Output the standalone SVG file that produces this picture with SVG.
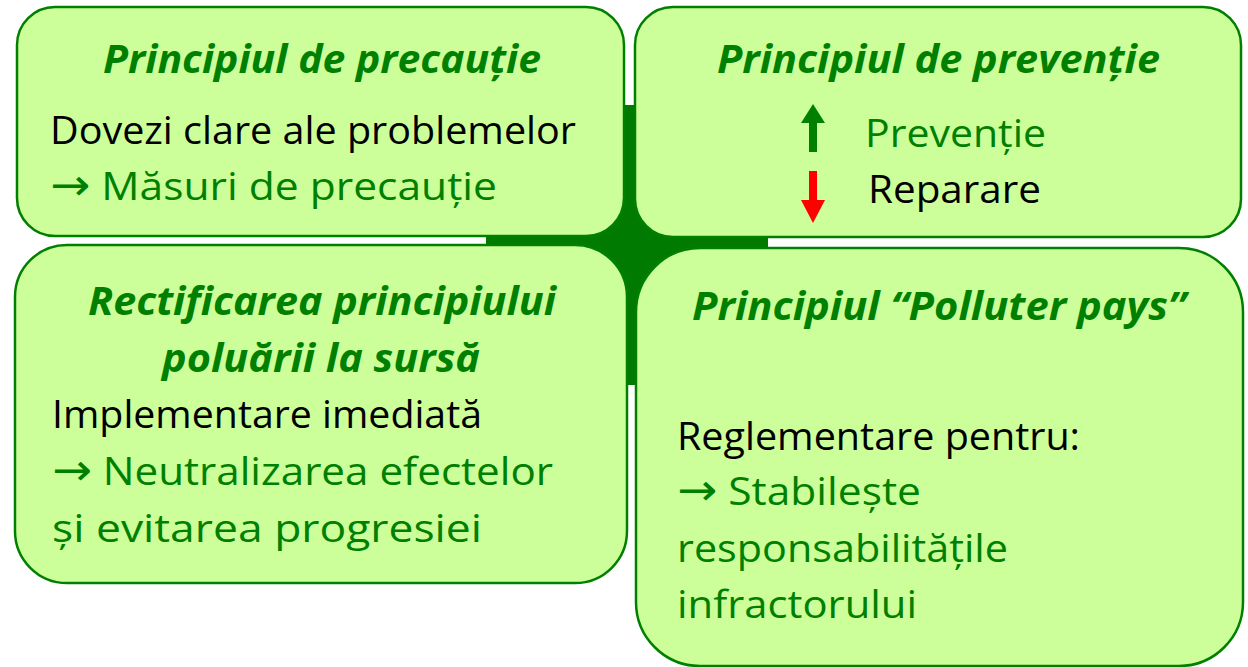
<svg xmlns="http://www.w3.org/2000/svg" width="1248" height="667" viewBox="0 0 1248 667">
<style>
.box{fill:#CCFF99;stroke:#008000;stroke-width:2.5}
.t{font-family:"Open Sans","Liberation Sans",sans-serif;font-size:39px;font-weight:bold;font-style:italic;fill:#008000}
.b{font-family:"Open Sans","Liberation Sans",sans-serif;font-size:39px;fill:#000}
.g{fill:#008000}
.ar{font-family:"DejaVu Sans",sans-serif;font-size:44px}
</style>
<rect width="1248" height="667" fill="#fff"/>
<g id="center">
<rect x="486" y="105" width="282" height="280" fill="#007A00"/>
</g>
<g id="node-precautie">
<rect class="box" x="17" y="7" width="607" height="229" rx="38"/>
<text class="t" x="103" y="73" textLength="438" lengthAdjust="spacingAndGlyphs">Principiul de precauție</text>
<text class="b" x="50" y="144" textLength="526" lengthAdjust="spacingAndGlyphs">Dovezi clare ale problemelor</text>
<text class="b g" x="50" y="200" textLength="447" lengthAdjust="spacingAndGlyphs"><tspan class="ar">→</tspan> Măsuri de precauție</text>
</g>
<g id="node-preventie">
<rect class="box" x="635" y="7" width="606" height="230" rx="38"/>
<text class="t" x="717" y="73" textLength="443" lengthAdjust="spacingAndGlyphs">Principiul de prevenție</text>
<polygon points="813,104 801,123 809,123 809,152 817,152 817,123 825,123" fill="#008000"/>
<text class="b g" x="865" y="147" textLength="181" lengthAdjust="spacingAndGlyphs">Prevenție</text>
<polygon points="809,171 817,171 817,200 825,200 813,223 801,200 809,200" fill="#FF0000"/>
<text class="b" x="868" y="203" textLength="173" lengthAdjust="spacingAndGlyphs">Reparare</text>
</g>
<g id="node-rectificare">
<rect class="box" x="15" y="245" width="612" height="338" rx="52"/>
<text class="t" x="88" y="315" textLength="468" lengthAdjust="spacingAndGlyphs">Rectificarea principiului</text>
<text class="t" x="162" y="372" textLength="318" lengthAdjust="spacingAndGlyphs">poluării la sursă</text>
<text class="b" x="52" y="428" textLength="430" lengthAdjust="spacingAndGlyphs">Implementare imediată</text>
<text class="b g" x="52" y="485" textLength="501" lengthAdjust="spacingAndGlyphs"><tspan class="ar">→</tspan> Neutralizarea efectelor</text>
<text class="b g" x="52" y="542" textLength="430" lengthAdjust="spacingAndGlyphs">și evitarea progresiei</text>
</g>
<g id="node-polluter">
<rect class="box" x="636" y="248" width="607" height="418" rx="64"/>
<text class="t" x="692" y="320" textLength="494" lengthAdjust="spacingAndGlyphs">Principiul “Polluter pays”</text>
<text class="b" x="677" y="450" textLength="403" lengthAdjust="spacingAndGlyphs">Reglementare pentru:</text>
<text class="b g" x="677" y="505" textLength="244" lengthAdjust="spacingAndGlyphs"><tspan class="ar">→</tspan> Stabilește</text>
<text class="b g" x="677" y="562" textLength="331" lengthAdjust="spacingAndGlyphs">responsabilitățile</text>
<text class="b g" x="677" y="618" textLength="240" lengthAdjust="spacingAndGlyphs">infractorului</text>
</g>
<g id="connectors"></g>
</svg>
